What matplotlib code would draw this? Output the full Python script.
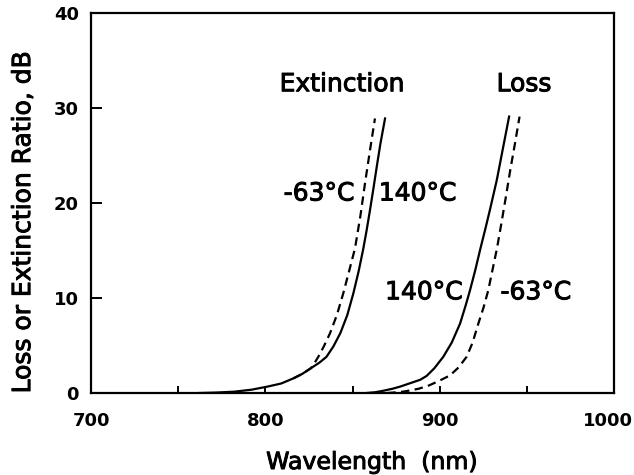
import matplotlib
matplotlib.use("Agg")
import matplotlib.pyplot as plt
import matplotlib.patheffects as pe
import matplotlib.transforms as mtransforms

# Extinction ratio curves (nm, dB)
ext_140_wl = [762, 772, 782, 792, 801, 809, 816, 821, 826, 831, 835, 839, 843,
              847, 850.5, 853.5, 856, 858, 860, 862, 864, 866, 868.7]
ext_140_db = [0.0, 0.05, 0.14, 0.35, 0.67, 1.0, 1.54, 2.0, 2.6, 3.2, 3.8, 4.9, 6.3,
              8.2, 10.5, 12.8, 15.0, 17.0, 19.2, 21.5, 23.9, 26.2, 28.9]

ext_m63_wl = [816, 821, 826, 828, 830.3, 833.5, 837.1, 841, 844.7, 848, 851.4,
              854.5, 857.2, 860, 862.9]
ext_m63_db = [1.54, 2.0, 2.6, 3.1, 3.8, 4.9, 6.3, 8.2, 10.5, 12.8, 15.2,
              18.6, 22.1, 25.5, 28.9]

# Loss curves (nm, dB)
loss_140_wl = [858, 863, 868, 873, 877.3, 881, 885, 889, 892.6, 897, 902.2, 907,
               911.8, 915, 917.5, 920.5, 923.5, 926.5, 929, 932.9, 936.5, 940]
loss_140_db = [0.0, 0.08, 0.25, 0.45, 0.67, 0.9, 1.15, 1.4, 1.8, 2.6, 3.82, 5.3,
               7.3, 9.2, 10.8, 12.9, 15.2, 17.4, 19.3, 22.4, 25.8, 29.1]

loss_m63_wl = [870, 875, 879, 884, 888, 894, 900, 906, 911, 915.6, 919, 922.3,
               925.3, 928, 930.5, 933, 935.5, 938, 940.5, 943.3, 946]
loss_m63_db = [0.0, 0.07, 0.14, 0.3, 0.45, 0.8, 1.3, 1.85, 2.7, 3.82, 5.3, 7.3,
               9.0, 10.8, 13.0, 15.2, 17.8, 20.5, 23.3, 26.2, 29.1]

xticks_major = [700, 800, 900, 1000]
xticks_minor = [750, 850, 950]
yticks = [0, 10, 20, 30, 40]

fig = plt.figure(figsize=(6.34, 4.75), dpi=100)
ax = fig.add_axes([0.1443, 0.1726, 0.8234, 0.8])

dash = (0, (3.8, 2.4))
ax.plot(ext_140_wl, ext_140_db, color='black', lw=1.6)
ax.plot(ext_m63_wl, ext_m63_db, color='black', lw=1.6, ls=dash)
ax.plot(loss_140_wl, loss_140_db, color='black', lw=1.6)
ax.plot(loss_m63_wl, loss_m63_db, color='black', lw=1.6, ls=dash)

ax.set_xlim(700, 1000)
ax.set_ylim(0, 40)
ax.set_xticks(xticks_major)
ax.set_xticks(xticks_minor, minor=True)
ax.set_yticks(yticks)
ax.set_xticklabels([str(t) for t in xticks_major], fontfamily='DejaVu Sans',
                   fontweight='bold', fontsize=13)
ax.set_yticklabels([str(t) for t in yticks], fontfamily='DejaVu Sans',
                   fontweight='bold', fontsize=13)
ax.tick_params(axis='x', which='both', direction='in', length=5, width=1.4, pad=14)
ax.tick_params(axis='y', which='both', direction='in', length=8, width=1.4, pad=9)
for sp in ax.spines.values():
    sp.set_linewidth(1.6)

# nudge the last x label left so it stays inside the figure
last = ax.get_xticklabels()[-1]
last.set_transform(last.get_transform() +
                   mtransforms.ScaledTranslation(-6 / 100, 0, fig.dpi_scale_trans))

thick = [pe.withStroke(linewidth=0.7, foreground='black')]
ax.set_xlabel("Wavelength  (nm)", fontfamily='DejaVu Sans', fontsize=17, path_effects=thick)
ax.set_ylabel("Loss or Extinction Ratio, dB", fontfamily='DejaVu Sans', fontsize=18,
              path_effects=thick)
ax.xaxis.set_label_coords(0.537, -0.15)
ax.yaxis.set_label_coords(-0.108, 0.45)

txt = dict(fontfamily='DejaVu Sans', fontsize=18, ha='center', va='center',
           path_effects=thick)
ax.text(844, 32.5, "Extinction", **txt)
ax.text(948.6, 32.5, "Loss", **txt)
ax.text(830.8, 21.0, "-63°C", **txt)
ax.text(887.4, 21.0, "140°C", **txt)
ax.text(891, 10.6, "140°C", **txt)
ax.text(955.4, 10.6, "-63°C", **txt)

fig.savefig("out.png", dpi=100)
